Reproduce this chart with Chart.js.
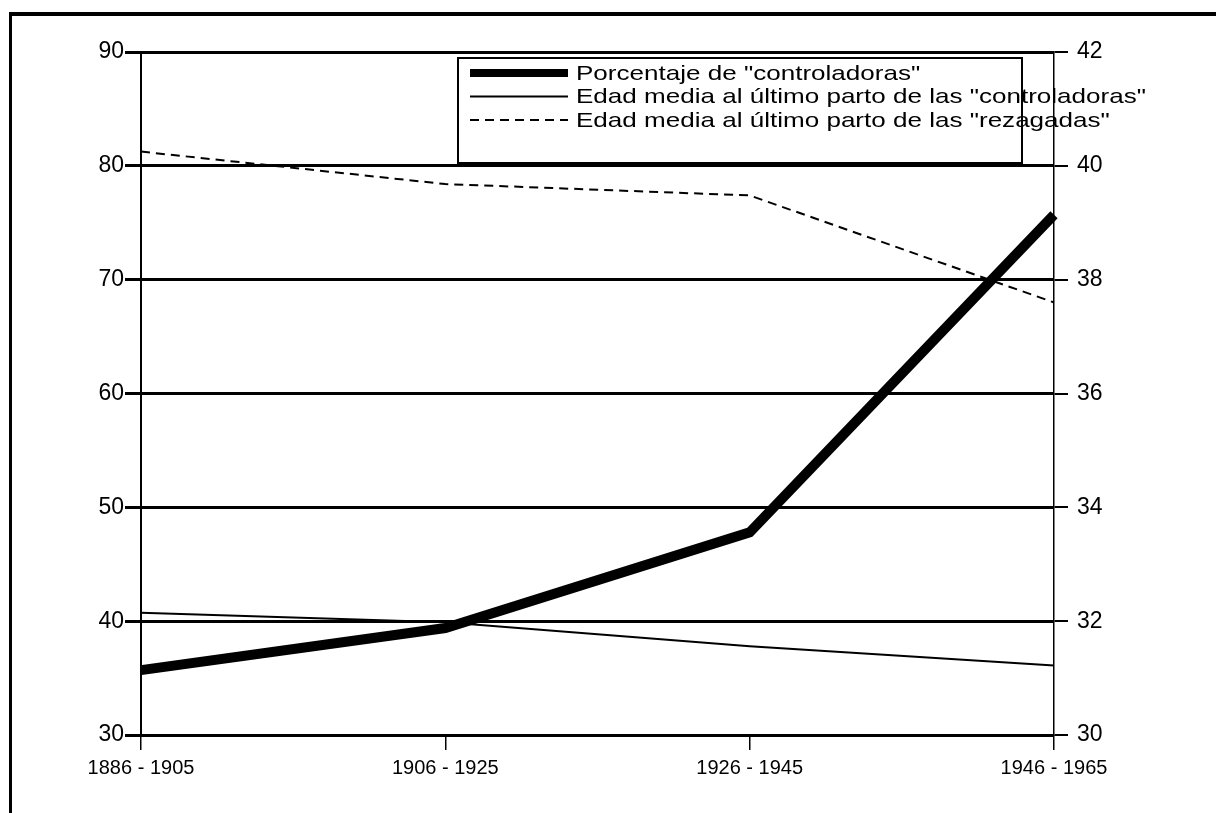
<!DOCTYPE html>
<html>
<head>
<meta charset="utf-8">
<script src="https://cdn.jsdelivr.net/npm/chart.js@4.4.1/dist/chart.umd.min.js"></script>
<style>
    body { margin: 0; background: #fff; }
    #wrap { position: relative; width: 1216px; height: 813px; overflow: hidden; }
    #frame { position: absolute; left: 9px; top: 12px; right: -10px; bottom: -10px; border-top: 4px solid #000; border-left: 3px solid #000; }
    #chart { position: absolute; left: 0; top: 0; }
</style>
</head>
<body>
<div id="wrap">
    <div id="frame"></div>
    <canvas id="chart" width="1216" height="813"></canvas>
</div>
<script>
// periodos (cohortes)
const periodos = ['1886 - 1905', '1906 - 1925', '1926 - 1945', '1946 - 1965'];

// eje izquierdo: % de controladoras
const porcentajeControladoras = [35.7, 39.4, 47.8, 75.7];

// eje derecho: edad media al ultimo parto
const edadControladoras = [32.15, 31.98, 31.56, 31.22];
const edadRezagadas = [40.25, 39.68, 39.48, 37.6];

const etiquetas = [
    'Porcentaje de "controladoras"',
    'Edad media al último parto de las "controladoras"',
    'Edad media al último parto de las "rezagadas"'
];

const fontMain = "'Liberation Sans', Arial, sans-serif";

// leyenda dibujada dentro del area del grafico
const legendBox = {
    id: 'legendBox',
    afterDatasetsDraw(chart) {
        const ctx = chart.ctx;
        ctx.save();
        ctx.fillStyle = '#fff';
        ctx.fillRect(458, 58, 564, 105);
        ctx.strokeStyle = '#000';
        ctx.lineWidth = 2;
        ctx.strokeRect(458, 58, 564, 105);
        let y = 73;
        chart.data.datasets.forEach(ds => {
            ctx.beginPath();
            ctx.lineWidth = ds.borderWidth === 10 ? 8 : ds.borderWidth;
            ctx.setLineDash(ds.borderDash || []);
            ctx.moveTo(470, y);
            ctx.lineTo(568, y);
            ctx.stroke();
            ctx.setLineDash([]);
            // el texto del original es mas ancho que alto
            ctx.save();
            ctx.translate(576, y + 1);
            ctx.scale(1.24, 1);
            ctx.fillStyle = '#000';
            ctx.font = '21px ' + fontMain;
            ctx.textBaseline = 'middle';
            ctx.fillText(ds.label, 0, 0);
            ctx.restore();
            y += 23.5;
        });
        ctx.restore();
    }
};

const ctx = document.getElementById('chart');

new Chart(ctx, {
    type: 'line',
    data: {
        labels: periodos,
        datasets: [{
            label: etiquetas[0],
            data: porcentajeControladoras,
            yAxisID: 'y',
            borderColor: '#000',
            borderWidth: 10,
            pointRadius: 0,
            tension: 0,
            fill: false,
        }, {
            label: etiquetas[1],
            data: edadControladoras,
            yAxisID: 'y1',
            borderColor: '#000',
            borderWidth: 2,
            pointRadius: 0,
            tension: 0,
            fill: false,
        }, {
            label: etiquetas[2],
            data: edadRezagadas,
            yAxisID: 'y1',
            borderColor: '#000',
            borderWidth: 2,
            borderDash: [9, 6],
            pointRadius: 0,
            tension: 0,
            fill: false,
        }]
    },
    options: {
        responsive: false,
        animation: false,
        events: [],
        layout: {
            padding: { top: 52, left: 0, right: 0, bottom: 0 }
        },
        plugins: {
            legend: { display: false },
            tooltip: { enabled: false },
        },
        scales: {
            x: {
                offset: false,
                afterFit: (scale) => { scale.height = 78; },
                grid: {
                    display: true,
                    drawOnChartArea: false,
                    drawTicks: true,
                    tickLength: 15,
                    color: '#000',
                    lineWidth: 1.5,
                },
                border: { display: false },
                ticks: {
                    color: '#000',
                    padding: 6,
                    maxRotation: 0,
                    autoSkip: false,
                    font: { size: 20, family: fontMain },
                }
            },
            y: {
                position: 'left',
                min: 30,
                max: 90,
                afterFit: (scale) => { scale.width = 141; },
                grid: {
                    color: '#000',
                    lineWidth: 3,
                    tickLength: 16,
                },
                border: { display: true, color: '#000', width: 2 },
                ticks: {
                    stepSize: 10,
                    color: '#000',
                    padding: 1,
                    font: { size: 23, family: fontMain },
                }
            },
            y1: {
                position: 'right',
                min: 30,
                max: 42,
                afterFit: (scale) => { scale.width = 162; },
                grid: {
                    drawOnChartArea: false,
                    drawTicks: true,
                    tickLength: 14,
                    color: '#000',
                    lineWidth: 2,
                },
                border: { display: true, color: '#000', width: 1.5, z: 1 },
                ticks: {
                    stepSize: 2,
                    color: '#000',
                    padding: 9,
                    font: { size: 23, family: fontMain },
                }
            }
        }
    },
    plugins: [legendBox]
});
</script>
</body>
</html>
